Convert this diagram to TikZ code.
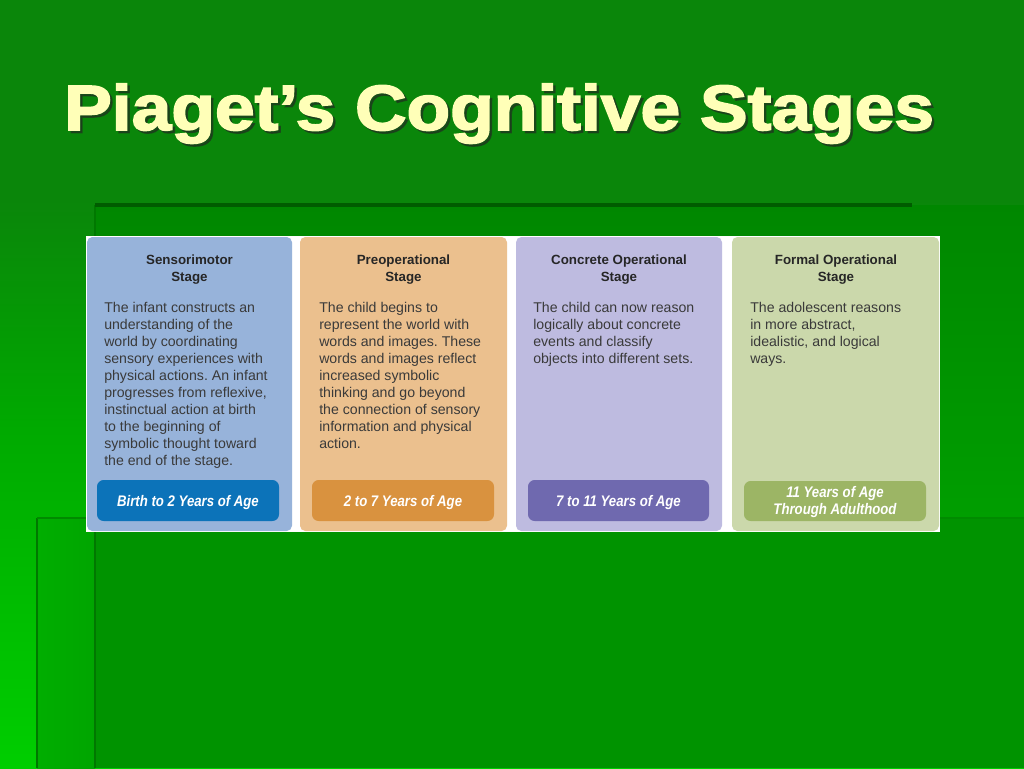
\documentclass[tikz,border=0pt]{standalone}
\usepackage{fontspec}
\setmainfont{Liberation Sans}
\newfontfamily\titlefont[FakeBold=2.4]{Liberation Sans}
\usepackage{graphicx}
\frenchspacing
\definecolor{gTop}{HTML}{0A860A}
\definecolor{gMid}{HTML}{00AA00}
\definecolor{gBot}{HTML}{00CE00}
\definecolor{aTop}{HTML}{008700}
\definecolor{aBot}{HTML}{009E00}
\definecolor{band}{HTML}{009300}
\definecolor{stripL}{HTML}{00AE00}
\definecolor{stripR}{HTML}{00A500}
\definecolor{edgeDark}{HTML}{005C00}
\definecolor{edgeMid}{HTML}{007800}
\definecolor{titleCol}{HTML}{FFFFB8}
\definecolor{shadowCol}{HTML}{1E3A1E}
\definecolor{pA}{HTML}{97B3DA}
\definecolor{bA}{HTML}{0C73B9}
\definecolor{pB}{HTML}{EBC08E}
\definecolor{bB}{HTML}{D9923F}
\definecolor{pC}{HTML}{BEBBE0}
\definecolor{bC}{HTML}{6F69AF}
\definecolor{pD}{HTML}{CBD8AB}
\definecolor{bD}{HTML}{9CB565}
\definecolor{headCol}{HTML}{262626}
\definecolor{bodyCol}{HTML}{3A3A3A}
\pgfdeclareverticalshading{bgshade}{100bp}{color(0bp)=(gBot); color(25bp)=(gBot); color(47bp)=(gMid); color(62bp)=(gTop); color(100bp)=(gTop)}
\newcommand\stagehead[1]{\parbox[t]{120pt}{\centering\fontsize{10}{12.75}\selectfont\bfseries #1}}
\newcommand\stagebody[1]{\parbox[t]{150pt}{\raggedright\fontsize{10.6}{12.75}\selectfont #1}}
\newcommand\agetext[1]{\scalebox{0.86}[1]{\parbox[t]{160pt}{\centering\fontsize{11.5}{12.75}\selectfont\bfseries\itshape #1}}}
\newcommand\titletext{\scalebox{1.115}[1]{\fontsize{48}{50}\selectfont\titlefont\bfseries Piaget’s Cognitive Stages}}
\tikzset{
  headnode/.style={anchor=base, inner sep=0pt, text=headCol},
  bodynode/.style={anchor=base west, inner sep=0pt, text=bodyCol},
  agenode/.style={anchor=base, inner sep=0pt, text=white},
  panelbox/.style={rounded corners=4pt},
  agebox/.style={rounded corners=5pt}
}
\begin{document}
\begin{tikzpicture}[x=0.75pt,y=-0.75pt]
\useasboundingbox (0,0) rectangle (1024,768);
% background
\shade[shading=bgshade] (0,0) rectangle (1024,768);
\shade[top color=aTop, bottom color=aBot] (95,205) rectangle (1024,518);
\fill[band] (95,518) rectangle (1024,768);
\shade[left color=stripL, right color=stripR] (37,518) rectangle (95,768);
\draw[edgeMid, line width=1.2pt] (37,518) -- (37,768);
\draw[edgeMid!60!stripR, line width=0.8pt] (37,518) -- (95,518);
\draw[edgeMid, line width=1.2pt] (95,205) -- (95,768);
\draw[edgeMid!50!aBot, line width=0.8pt] (940,518) -- (1024,518);
\draw[edgeDark, line width=3.5pt] (95,205) -- (912,205);
% title
\node[anchor=base west, inner sep=0pt, text=shadowCol, opacity=0.75] (titleshadow) at (66.5,132.5) {\titletext};
\node[anchor=base west, inner sep=0pt, text=titleCol] (title) at (64,130) {\titletext};
% figure
\fill[white] (86,236) rectangle (940,532);
\fill[pA, panelbox] (87,237) rectangle (292,531);
\fill[pB, panelbox] (300,237) rectangle (507,531);
\fill[pC, panelbox] (516,237) rectangle (722,531);
\fill[pD, panelbox] (732,237) rectangle (939,531);
\fill[bA, agebox] (97,480) rectangle (279,521);
\fill[bB, agebox] (312,480) rectangle (494,521);
\fill[bC, agebox] (528,480) rectangle (709,521);
\fill[bD, agebox] (744,481) rectangle (926,521);
% headings
\node[headnode] (hA) at (189.5,264) {\stagehead{Sensorimotor\\Stage}};
\node[headnode] (hB) at (403.5,264) {\stagehead{Preoperational\\Stage}};
\node[headnode] (hC) at (619,264) {\stagehead{Concrete Operational\\Stage}};
\node[headnode] (hD) at (836,264) {\stagehead{Formal Operational\\Stage}};
% bodies
\node[bodynode] (tA) at (104,312) {\stagebody{The infant constructs an\\understanding of the\\world by coordinating\\sensory experiences with\\physical actions. An infant\\progresses from reflexive,\\instinctual action at birth\\to the beginning of\\symbolic thought toward\\the end of the stage.}};
\node[bodynode] (tB) at (319,312) {\stagebody{The child begins to\\represent the world with\\words and images. These\\words and images reflect\\increased symbolic\\thinking and go beyond\\the connection of sensory\\information and physical\\action.}};
\node[bodynode] (tC) at (533,312) {\stagebody{The child can now reason\\logically about concrete\\events and classify\\objects into different sets.}};
\node[bodynode] (tD) at (750,312) {\stagebody{The adolescent reasons\\in more abstract,\\idealistic, and logical\\ways.}};
% ages
\node[agenode] (aA) at (188,506) {\agetext{Birth to 2 Years of Age}};
\node[agenode] (aB) at (403,506) {\agetext{2 to 7 Years of Age}};
\node[agenode] (aC) at (618.5,506) {\agetext{7 to 11 Years of Age}};
\node[agenode] (aD) at (835,497) {\agetext{11 Years of Age\\Through Adulthood}};
\end{tikzpicture}
\end{document}
